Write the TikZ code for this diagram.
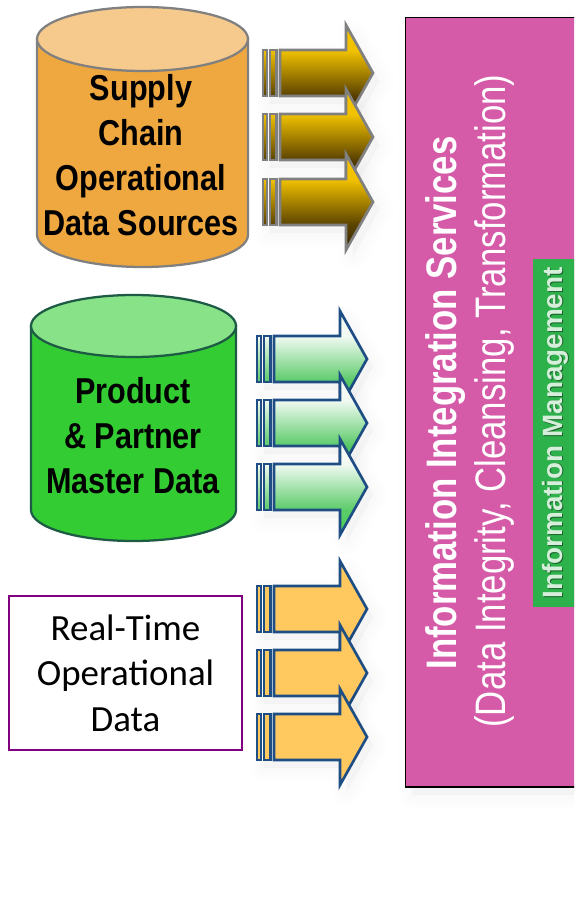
\documentclass[tikz,border=0pt]{standalone}
\usepackage{fontspec}
\setmainfont{Liberation Sans}
\newfontfamily\calibrifont{Carlito}
\usetikzlibrary{positioning}
\definecolor{goldtop}{HTML}{F2C200}
\definecolor{goldbot}{HTML}{5A4200}
\definecolor{goldline}{HTML}{808080}
\definecolor{greentop}{HTML}{F2FAF3}
\definecolor{greenbot}{HTML}{5ACB68}
\definecolor{blueline}{HTML}{1F4E85}
\definecolor{amberfill}{HTML}{FFC960}
\definecolor{cylorange}{HTML}{EFA83F}
\definecolor{cylorangetop}{HTML}{F6C98C}
\definecolor{cylgreen}{HTML}{33CC33}
\definecolor{cylgreentop}{HTML}{88E288}
\definecolor{cylgreenline}{HTML}{1E5B45}
\definecolor{boxpurple}{HTML}{800080}
\definecolor{panelpink}{HTML}{D55AA8}
\definecolor{mgmtgreen}{HTML}{2DB14B}
\pgfdeclareverticalshading{goldshaft}{100bp}{color(0bp)=(goldbot!60!black); color(25bp)=(goldbot!60!black); color(38bp)=(goldbot); color(62bp)=(goldtop); color(100bp)=(goldtop)}
\pgfdeclareverticalshading{greenshaft}{100bp}{color(0bp)=(greenbot!85!green); color(25bp)=(greenbot!85!green); color(38bp)=(greenbot); color(62bp)=(greentop); color(100bp)=(greentop)}
\tikzset{
  arrowline/.style={line width=2pt,miter limit=10},
  goldarrow/.style={arrowline,draw=goldline,shading=goldshaft},
  goldstub/.style={arrowline,draw=goldline,top color=goldtop,bottom color=goldbot},
  greenarrow/.style={arrowline,draw=blueline,shading=greenshaft},
  greenstub/.style={arrowline,draw=blueline,top color=greentop,bottom color=greenbot},
  amberarrow/.style={arrowline,draw=blueline,fill=amberfill},
  boldlabel/.style={font=\bfseries\fontsize{27}{33.75}\selectfont,align=center,inner sep=0pt},
  paneltext/.style={rotate=90,text=white,inner sep=0pt},
  softshade/.style={fill=black,draw=black,opacity=.003,line join=round}
}
% x, mid height, stub look, body look
\newcommand{\flowarrow}[4]{
  \foreach \w in {2,6,10,14,18,22}
    \path[softshade,line width=\w]
      (#1+8,#2-15) -- (#1+91,#2-15) -- (#1+91,#2-38) -- (#1+117,#2+8) -- (#1+91,#2+54) -- (#1+91,#2+31) -- (#1+8,#2+31) -- cycle;
  \path[#3] (#1+1,#2-23) rectangle (#1+5,#2+23);
  \path[#3] (#1+8,#2-23) rectangle (#1+14.5,#2+23);
  \path[#4] (#1+18,#2-23) -- (#1+84,#2-23) -- (#1+84,#2-48) -- (#1+111,#2) -- (#1+84,#2+48) -- (#1+84,#2+23) -- (#1+18,#2+23) -- cycle;
}
\begin{document}
\begin{tikzpicture}[x=0.75pt,y=-0.75pt]
\useasboundingbox (0,0) rectangle (574,905);
\clip (0,0) rectangle (574,905);

\foreach \w in {2,6,10,14,18,22}
  \path[softshade,line width=\w] (413,25) rectangle (600,795);
\path[fill=panelpink,draw=black,line width=1.4pt] (405.5,17.5) rectangle (600,787);
\path[fill=mgmtgreen] (533,259) rectangle (600,607);

\path[fill=cylorange,draw=goldline,line width=1.7pt]
  (37,39) -- (37,235) arc[start angle=180,end angle=0,x radius=105.5,y radius=32] -- (248,39) -- cycle;
\path[fill=cylorangetop,draw=goldline,line width=1.7pt]
  (142.5,39) ellipse[x radius=105.5,y radius=32];
\path[fill=cylgreen,draw=cylgreenline,line width=1.7pt]
  (31,326) -- (31,510) arc[start angle=180,end angle=0,x radius=102.5,y radius=31] -- (236,326) -- cycle;
\path[fill=cylgreentop,draw=cylgreenline,line width=1.7pt]
  (133.5,326) ellipse[x radius=102.5,y radius=31];

\node[boldlabel] (supply) at (141,155) {\scalebox{.85}[1]{Supply}\\\scalebox{.85}[1]{Chain}\\\scalebox{.85}[1]{Operational}\\\scalebox{.85}[1]{Data Sources}};
\node[boldlabel] (master) at (133,436) {\scalebox{.85}[1]{Product}\\\scalebox{.85}[1]{\& Partner}\\\scalebox{.85}[1]{Master Data}};
\node[draw=boxpurple,line width=1.6pt,minimum width=175pt,minimum height=116pt,inner sep=0pt,
  align=center,font=\calibrifont\fontsize{27.7}{34}\selectfont] (realtime) at (125.5,673) {Real-Time\\Operational\\Data};

\foreach \y in {73,137,202} {
  \flowarrow{262}{\y}{goldstub}{goldarrow}
}
\foreach \y in {359,423,487} {
  \flowarrow{256}{\y}{greenstub}{greenarrow}
}
\foreach \y in {609,673,737} {
  \flowarrow{256}{\y}{amberarrow}{amberarrow}
}

\node[paneltext,font=\bfseries\fontsize{32}{36}\selectfont] (integration) at (446,403) {\scalebox{.815}[1]{Information Integration Services}};
\node[paneltext,font=\fontsize{32}{36}\selectfont] (cleansing) at (494,401) {\scalebox{.815}[1]{(Data Integrity, Cleansing, Transformation)}};
\node[paneltext,font=\bfseries\fontsize{20.9}{24}\selectfont,text=black!45!mgmtgreen] (mgmtshadow) at (556.5,433.5) {Information Management};
\node[paneltext,font=\bfseries\fontsize{20.9}{24}\selectfont,text=white!80!mgmtgreen] (mgmt) at (555,433) {Information Management};
\end{tikzpicture}
\end{document}
